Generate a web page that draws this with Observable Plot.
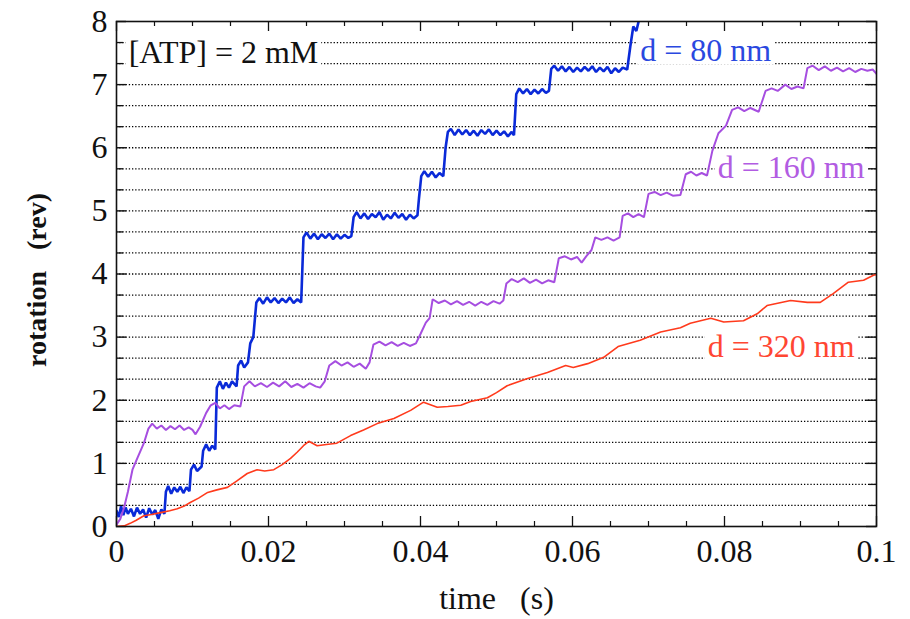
<!DOCTYPE html>
<html>
<head>
<meta charset="utf-8">
<script src="https://cdn.jsdelivr.net/npm/d3@7"></script>
<script src="https://cdn.jsdelivr.net/npm/@observablehq/plot@0.6"></script>
<style>
  html, body { margin: 0; padding: 0; background: #fff; }
  #chart svg text { white-space: pre; }
</style>
</head>
<body>
<div id="chart"></div>
<script>
// Rotation traces of F1-ATPase at [ATP] = 2 mM, three probe sizes.
// Each trace: [time (ms), rotation (rev)].
const trace80 = [
  [0,0.25],[0.3,0.15],[0.6,0.32],[0.9,0.18],[1.2,0.3],[1.5,0.2],[1.9,0.28],[2.3,0.16],[2.7,0.3],[3.1,0.2],
  [3.5,0.27],[3.9,0.14],[4.3,0.29],[4.7,0.19],[5.1,0.26],[5.5,0.12],[5.9,0.27],[6.3,0.2],
  [6.5,0.55],[6.8,0.64],[7.2,0.52],[7.6,0.62],[8.0,0.55],[8.4,0.63],[8.8,0.53],[9.2,0.62],[9.6,0.56],
  [9.8,0.9],[10.2,0.98],[10.6,0.88],[11.2,0.95],
  [11.4,1.2],[11.8,1.3],[12.2,1.2],[12.6,1.28],[13.0,1.22],
  [13.2,2.2],[13.6,2.3],[14.0,2.18],[14.4,2.28],[14.8,2.2],[15.2,2.3],[15.8,2.22],
  [16.0,2.55],[16.4,2.63],[16.8,2.52],[17.3,2.6],
  [17.6,2.9],[18.0,3.0],[18.4,3.55],[18.8,3.62],[19.3,3.53],[19.8,3.63],[20.3,3.55],[20.8,3.62],[21.3,3.54],
  [21.8,3.61],[22.3,3.55],[22.8,3.63],[23.3,3.54],[23.8,3.6],[24.3,3.55],
  [24.6,4.58],[25.0,4.66],[25.5,4.56],[26.0,4.64],[26.5,4.55],[27.0,4.63],[27.5,4.57],[28.0,4.64],[28.5,4.55],
  [29.0,4.63],[29.5,4.56],[30.0,4.62],[30.5,4.57],[30.9,4.6],
  [31.2,4.9],[31.6,4.98],[32.1,4.88],[32.6,4.96],[33.1,4.87],[33.6,4.95],[34.1,4.9],[34.6,4.98],[35.1,4.86],
  [35.6,4.94],[36.1,4.88],[36.6,4.97],[37.1,4.89],[37.6,4.95],[38.1,4.86],[38.6,4.94],[39.1,4.88],[39.6,4.93],
  [39.8,5.2],[40.1,5.55],[40.5,5.63],[41.0,5.54],[41.5,5.62],[42.0,5.53],[42.5,5.6],[43.0,5.55],
  [43.3,6.0],[43.6,6.25],[44.0,6.3],[44.5,6.2],[45.0,6.29],[45.5,6.21],[46.0,6.28],[46.5,6.2],[47.0,6.27],
  [47.5,6.19],[48.0,6.28],[48.5,6.22],[49.0,6.29],[49.5,6.2],[50.0,6.27],[50.5,6.2],[51.0,6.26],[51.5,6.18],
  [52.0,6.25],[52.3,6.2],
  [52.6,6.85],[53.0,6.94],[53.5,6.86],[54.0,6.93],[54.5,6.85],[55.0,6.92],[55.5,6.86],[56.0,6.93],[56.5,6.87],[56.9,6.9],
  [57.2,7.25],[57.6,7.3],[58.1,7.22],[58.6,7.29],[59.1,7.21],[59.6,7.28],[60.1,7.2],[60.6,7.27],[61.1,7.21],
  [61.6,7.28],[62.1,7.22],[62.6,7.29],[63.1,7.2],[63.6,7.27],[64.1,7.21],[64.6,7.28],[65.1,7.18],[65.6,7.26],
  [66.1,7.2],[66.6,7.27],[67.2,7.24],
  [67.6,7.6],[68.0,7.92],[68.4,7.85],[68.8,8.05],[69.0,8.1]
];

const trace160 = [
  [0,0.03],[0.5,0.12],[1.0,0.3],[1.5,0.55],[2.1,0.9],[2.8,1.1],[3.6,1.32],[4.2,1.55],[4.7,1.63],[5.3,1.55],
  [5.9,1.6],[6.5,1.53],[7.1,1.59],[7.7,1.54],[8.3,1.6],[8.9,1.53],[9.5,1.57],[10.0,1.53],[10.4,1.46],[11.0,1.58],
  [11.8,1.8],[12.4,1.92],[13.0,1.96],[13.6,1.87],[14.2,1.92],[14.8,1.86],[15.5,1.92],[16.3,1.9],
  [16.8,2.22],[17.5,2.3],[18.2,2.22],[19.0,2.27],[19.8,2.21],[20.6,2.28],[21.4,2.22],[22.2,2.3],[23.0,2.21],
  [23.8,2.26],[24.6,2.2],[25.4,2.27],[26.2,2.22],[26.8,2.2],[27.4,2.3],
  [28.0,2.55],[28.8,2.62],[29.6,2.55],[30.4,2.6],[31.2,2.53],[32.0,2.58],[32.8,2.5],[33.3,2.6],
  [33.8,2.88],[34.6,2.93],[35.4,2.87],[36.2,2.92],[37.0,2.86],[37.8,2.91],[38.6,2.86],[39.4,2.9],
  [40.0,3.05],[40.7,3.23],[41.2,3.3],[41.6,3.6],[42.4,3.54],[43.2,3.58],[44.0,3.52],[44.8,3.57],[45.6,3.51],
  [46.4,3.56],[47.2,3.5],[48.0,3.56],[48.8,3.51],[49.6,3.57],[50.4,3.53],[50.9,3.58],
  [51.3,3.85],[52.0,3.92],[52.8,3.87],[53.6,3.93],[54.4,3.86],[55.2,3.91],[56.0,3.85],[56.8,3.9],[57.6,3.87],
  [58.2,4.25],[59.0,4.28],[59.8,4.23],[60.6,4.27],[61.2,4.18],[61.8,4.28],[62.5,4.38],
  [63.0,4.58],[63.8,4.54],[64.6,4.58],[65.4,4.53],[66.2,4.58],
  [66.6,4.92],[67.3,4.96],[68.0,4.9],[68.7,4.95],[69.4,4.9],
  [70.0,5.27],[70.8,5.3],[71.6,5.25],[72.4,5.29],[73.2,5.24],[74.2,5.25],
  [74.9,5.58],[75.6,5.62],[76.3,5.56],[77.0,5.6],[77.7,5.56],
  [78.4,5.95],[79.2,6.23],[80.2,6.35],[81.0,6.6],[81.8,6.64],[82.6,6.58],[83.4,6.63],[84.5,6.57],
  [85.4,6.9],[86.2,6.94],[87.0,6.9],[88.0,7.0],[88.8,6.93],[89.6,6.97],[90.4,6.94],
  [90.9,7.26],[91.6,7.3],[92.4,7.23],[93.2,7.29],[94.0,7.22],[94.8,7.27],[95.6,7.21],[96.4,7.26],[97.2,7.2],
  [98.0,7.25],[98.8,7.22],[99.5,7.24],[100,7.17]
];

const trace320 = [
  [0,0.0],[1.0,0.01],[1.8,0.05],[2.6,0.1],[3.6,0.17],[4.6,0.19],[5.8,0.22],[7.0,0.25],[8.0,0.28],[9.0,0.33],
  [9.7,0.38],[10.8,0.45],[12.0,0.54],[13.2,0.58],[14.6,0.62],[15.8,0.72],[17.2,0.84],[18.5,0.9],[19.5,0.88],
  [20.7,0.9],[21.8,0.98],[22.9,1.08],[23.8,1.18],[24.6,1.28],[25.3,1.35],[26.4,1.28],[27.6,1.3],[29.0,1.32],
  [30.8,1.44],[32.5,1.53],[34.3,1.63],[36.5,1.71],[38.7,1.84],[40.4,1.97],[42.2,1.89],[43.6,1.9],[45.3,1.92],
  [46.6,1.98],[48.8,2.04],[50.0,2.12],[51.4,2.23],[54.0,2.34],[56.7,2.44],[59.1,2.55],[60.1,2.52],[62.0,2.58],
  [64.1,2.68],[66.0,2.85],[68.9,2.95],[71.6,3.08],[74.2,3.15],[75.5,3.22],[78.2,3.3],[79.9,3.24],[82.5,3.26],
  [84.3,3.37],[85.6,3.5],[88.7,3.58],[90.9,3.55],[92.6,3.55],[94.3,3.69],[96.3,3.87],[98.3,3.9],[99.6,3.98],[100,3.99]
];

const seriesColors = ["#0a2ad8", "#a64ee0", "#ff3a1c"];
const seriesWidths = [2.6, 2, 1.6];

// In-plot labels
const labelText  = ["[ATP] = 2 mM", "d = 80 nm", "d = 160 nm", "d = 320 nm"];
const labelTime  = [1.6, 68.9, 79.1, 77.8];      // ms, left edge of text
const labelRev   = [7.5, 7.53, 5.69, 2.84];
const labelColor = ["#111111", "#2a48e0", "#b25ce2", "#ff4632"];

// Axes
const xTicksMajor = [0, 0.02, 0.04, 0.06, 0.08, 0.1];
const xTicksMinor = [0.005, 0.01, 0.015, 0.025, 0.03, 0.035, 0.045, 0.05, 0.055,
                     0.065, 0.07, 0.075, 0.085, 0.09, 0.095];
const yTicksMajor = [0, 1, 2, 3, 4, 5, 6, 7, 8];
// one gridline per 120° step (1/3 rev)
const yThirds = d3.range(1, 24).map(i => i / 3);
const yThirdsMinor = yThirds.filter(v => Math.abs(v - Math.round(v)) > 1e-6);

const W = 910, H = 619;
const mL = 116, mR = 34, mT = 21, mB = 93;
const plotW = W - mL - mR, plotH = H - mT - mB;
const serif = "'Liberation Serif', 'Times New Roman', Times, serif";
const FS = 32;

const toRows = tr => tr.map(([ms, r]) => ({t: ms / 1000, r}));
const traces = [trace80, trace160, trace320];
const labels = labelText.map((text, i) => ({text, t: labelTime[i] / 1000, r: labelRev[i], c: labelColor[i]}));

const chart = Plot.plot({
  width: W, height: H,
  marginLeft: mL, marginRight: mR, marginTop: mT, marginBottom: mB,
  x: {domain: [0, 0.1]},
  y: {domain: [0, 8]},
  style: {fontFamily: serif, fontSize: FS + "px", background: "#fff", color: "#111"},
  marks: [
    // dotted gridlines every 1/3 rev
    Plot.ruleY(yThirds, {stroke: "#000", strokeWidth: 1.3, strokeDasharray: "1.3,1.9"}),
    // inward ticks: bottom and top
    Plot.ruleX(xTicksMajor, {stroke: "#111", strokeWidth: 1.3, insetTop: plotH - 10}),
    Plot.ruleX(xTicksMajor, {stroke: "#111", strokeWidth: 1.3, insetBottom: plotH - 10}),
    Plot.ruleX(xTicksMinor, {stroke: "#111", strokeWidth: 1.2, insetTop: plotH - 5}),
    Plot.ruleX(xTicksMinor, {stroke: "#111", strokeWidth: 1.2, insetBottom: plotH - 5}),
    // inward ticks: left and right
    Plot.ruleY(yTicksMajor, {stroke: "#111", strokeWidth: 1.4, insetRight: plotW - 10}),
    Plot.ruleY(yTicksMajor, {stroke: "#111", strokeWidth: 1.4, insetLeft: plotW - 10}),
    Plot.ruleY(yThirdsMinor, {stroke: "#111", strokeWidth: 1.3, insetRight: plotW - 7}),
    Plot.ruleY(yThirdsMinor, {stroke: "#111", strokeWidth: 1.3, insetLeft: plotW - 7}),
    // traces
    ...traces.map((tr, i) => Plot.line(toRows(tr), {
      x: "t", y: "r", stroke: seriesColors[i], strokeWidth: seriesWidths[i],
      strokeLinejoin: "miter", clip: true
    })),
    // in-plot labels
    Plot.text(labels, {
      x: "t", y: "r", text: "text", fill: "c",
      textAnchor: "start", lineAnchor: "middle", fontSize: FS
    }),
    // tick labels
    Plot.axisX(xTicksMajor, {tickSize: 0, tickPadding: 13, fontSize: FS, label: null, tickFormat: d => String(d)}),
    Plot.axisY(yTicksMajor, {tickSize: 0, tickPadding: 9, fontSize: FS, label: null, tickFormat: d => String(d)}),
    // axis titles
    Plot.text(["time   (s)"], {text: d => d, frameAnchor: "bottom", dy: 72, textAnchor: "middle",
      lineAnchor: "middle", fontSize: FS}),
    Plot.text(["rotation   (rev)"], {text: d => d, frameAnchor: "left", rotate: -90, dx: -79, dy: 6,
      textAnchor: "middle", lineAnchor: "middle", fontSize: 28, fontWeight: "bold"}),
    Plot.frame({stroke: "#111", strokeWidth: 1.6})
  ]
});

document.getElementById("chart").append(chart);

// White boxes behind the in-plot labels so the gridlines break around them
chart.querySelectorAll('g[aria-label="text"] text').forEach(t => {
  if (!labelText.includes(t.textContent)) return;
  const b = t.getBBox();
  const rect = document.createElementNS("http://www.w3.org/2000/svg", "rect");
  rect.setAttribute("x", b.x - 3);
  rect.setAttribute("y", b.y + 4);
  rect.setAttribute("width", b.width + 6);
  rect.setAttribute("height", b.height - 8);
  rect.setAttribute("fill", "#fff");
  rect.setAttribute("stroke", "none");
  const tr = t.getAttribute("transform");
  if (tr) rect.setAttribute("transform", tr);
  t.parentNode.insertBefore(rect, t);
});
</script>
</body>
</html>
